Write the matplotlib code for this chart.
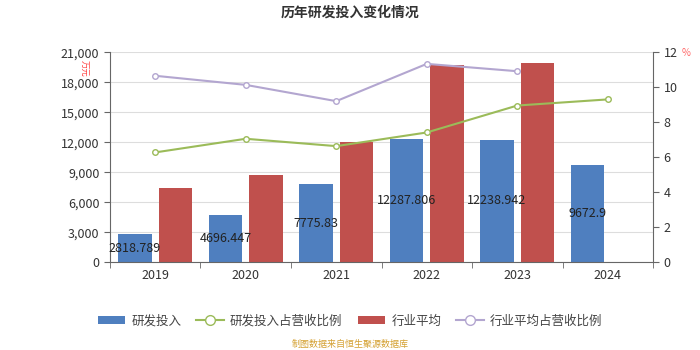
import numpy as np
import matplotlib
matplotlib.use("Agg")
import matplotlib.pyplot as plt
from matplotlib.lines import Line2D
from matplotlib.patches import Patch

plt.rcParams['font.family'] = ['Noto Sans CJK SC', 'DejaVu Sans']

years = ["2019", "2020", "2021", "2022", "2023", "2024"]
rd_invest = [2818.789, 4696.447, 7775.83, 12287.806, 12238.942, 9672.9]
rd_ratio = [6.27, 7.05, 6.63, 7.41, 8.95, 9.30]
ind_avg = [7450, 8750, 12000, 19700, 19930]
ind_ratio = [10.65, 10.13, 9.20, 11.33, 10.91]

c_blue = "#4f7fbf"
c_red = "#c0504d"
c_green = "#9bbb59"
c_purple = "#b3a6d0"

fig = plt.figure(figsize=(7, 3.5), dpi=100)
ax = fig.add_axes([0.157, 0.251, 0.776, 0.6])
ax2 = ax.twinx()

x = np.arange(len(years))
w = 0.37
off = 0.225
ax.bar(x - off, rd_invest, w, color=c_blue, zorder=2)
ax.bar(x[:len(ind_avg)] + off, ind_avg, w, color=c_red, zorder=2)
for xi, v in zip(x, rd_invest):
    ax.text(xi - off, v / 2, str(v), ha="center", va="center", fontsize=9, color="#222222", zorder=5)

ax2.plot(x, rd_ratio, color=c_green, lw=1.5, marker="o", ms=4, mfc="white", mec=c_green, zorder=3)
ax2.plot(x[:len(ind_ratio)], ind_ratio, color=c_purple, lw=1.5, marker="o", ms=4, mfc="white", mec=c_purple, zorder=3)

ax.set_xlim(-0.5, len(years) - 0.5)
ax.set_ylim(0, 21000)
ax.set_yticks(range(0, 21001, 3000))
ax.set_yticklabels([f"{v:,}" for v in range(0, 21001, 3000)])
ax2.set_ylim(0, 12)
ax2.set_yticks(range(0, 13, 2))

ax.set_xticks(x)
ax.set_xticklabels(years)
ax.set_xticks(np.arange(-0.5, len(years), 1), minor=True)
ax.tick_params(axis="x", which="major", length=0, labelsize=9, colors="#333333", pad=5)
ax.tick_params(axis="x", which="minor", length=4, color="#666666")
ax.tick_params(axis="y", labelsize=9, colors="#333333", length=4, color="#666666")
ax2.tick_params(axis="y", labelsize=9, colors="#333333", length=4, color="#666666")

ax.grid(axis="y", color="#dddddd", lw=0.8, zorder=0)
ax.set_axisbelow(True)
for a in (ax, ax2):
    a.spines["top"].set_visible(False)
    a.spines["left"].set_color("#666666")
    a.spines["right"].set_color("#666666")
    a.spines["bottom"].set_color("#666666")
ax.spines["right"].set_visible(False)
ax2.spines["left"].set_visible(False)
ax2.spines["bottom"].set_visible(False)

fig.text(0.5, 0.965, "历年研发投入变化情况", ha="center", va="center", fontsize=10, fontweight="bold", color="#333333")
fig.text(0.121, 0.806, "万元", ha="center", va="center", fontsize=6, color="#ff4444", rotation=-90)
fig.text(0.98, 0.85, "%", ha="center", va="center", fontsize=7, color="#ff6666")

handles = [
    Patch(facecolor=c_blue, edgecolor="none"),
    Line2D([0], [0], color=c_green, marker="o", mfc="white", ms=7, lw=1.5),
    Patch(facecolor=c_red, edgecolor="none"),
    Line2D([0], [0], color=c_purple, marker="o", mfc="white", ms=7, lw=1.5),
]
labels = ["研发投入", "研发投入占营收比例", "行业平均", "行业平均占营收比例"]
fig.legend(handles, labels, loc="center", bbox_to_anchor=(0.5, 0.083), ncol=4, frameon=False,
           fontsize=9, handlelength=2.2, columnspacing=1.2, handletextpad=0.5, labelcolor="#444444")

fig.text(0.5, 0.015, "制图数据来自恒生聚源数据库", ha="center", va="center", fontsize=6.5, color="#d4a030")

fig.savefig("out.png", dpi=100)
